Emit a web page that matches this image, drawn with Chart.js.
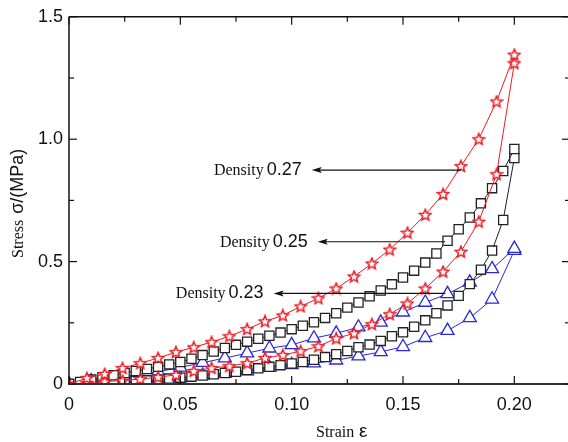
<!DOCTYPE html>
<html>
<head>
<meta charset="utf-8">
<script src="https://cdn.jsdelivr.net/npm/chart.js@4"></script>
<style>
  html, body { margin: 0; padding: 0; background: #fff; overflow: hidden; }
  .wrap { width: 568px; height: 442px; overflow: hidden; }
</style>
</head>
<body>
<div class="wrap"><canvas id="myChart" width="580" height="442"></canvas></div>
<script>
// strain steps per density
const strain27 = [0, 0.008, 0.016, 0.024, 0.032, 0.04, 0.048, 0.056, 0.064, 0.072, 0.08, 0.088, 0.096,
  0.104, 0.112, 0.12, 0.128, 0.136, 0.144, 0.152, 0.16, 0.168, 0.176, 0.184, 0.192, 0.2];
const strain25 = [0, 0.005, 0.01, 0.015, 0.02, 0.025, 0.03, 0.035, 0.04, 0.045, 0.05, 0.055, 0.06, 0.065,
  0.07, 0.075, 0.08, 0.085, 0.09, 0.095, 0.1, 0.105, 0.11, 0.115, 0.12, 0.125, 0.13, 0.135, 0.14, 0.145,
  0.15, 0.155, 0.16, 0.165, 0.17, 0.175, 0.18, 0.185, 0.19, 0.195, 0.2];
const strain23 = [0, 0.01, 0.02, 0.03, 0.04, 0.05, 0.06, 0.07, 0.08, 0.09, 0.1, 0.11, 0.12, 0.13, 0.14,
  0.15, 0.16, 0.17, 0.18, 0.19, 0.2];

// stress (MPa), loading and unloading branches
const load27 = [0, 0.024, 0.041, 0.065, 0.085, 0.106, 0.13, 0.15, 0.171, 0.195, 0.224, 0.256, 0.28,
  0.317, 0.35, 0.39, 0.439, 0.492, 0.549, 0.618, 0.691, 0.776, 0.89, 1.0, 1.154, 1.345];
const unload27 = [0, 0.005, 0.01, 0.014, 0.02, 0.028, 0.037, 0.053, 0.065, 0.073, 0.085, 0.106, 0.118,
  0.134, 0.154, 0.186, 0.207, 0.244, 0.285, 0.329, 0.39, 0.459, 0.54, 0.663, 0.857, 1.31];

const load25 = [0, 0.008, 0.018, 0.028, 0.036, 0.045, 0.053, 0.061, 0.07, 0.08, 0.09, 0.103, 0.118,
  0.133, 0.147, 0.16, 0.173, 0.185, 0.197, 0.21, 0.224, 0.238, 0.252, 0.27, 0.289, 0.312, 0.333, 0.358,
  0.382, 0.407, 0.435, 0.463, 0.496, 0.533, 0.585, 0.632, 0.68, 0.738, 0.8, 0.87, 0.96];
const unload25 = [0, 0.001, 0.003, 0.005, 0.007, 0.009, 0.012, 0.015, 0.018, 0.022, 0.026, 0.03, 0.035,
  0.04, 0.045, 0.05, 0.057, 0.064, 0.07, 0.077, 0.084, 0.09, 0.099, 0.11, 0.122, 0.135, 0.15, 0.161,
  0.176, 0.195, 0.211, 0.234, 0.26, 0.289, 0.321, 0.36, 0.408, 0.467, 0.545, 0.67, 0.923];

const load23 = [0, 0.012, 0.022, 0.037, 0.05, 0.068, 0.087, 0.106, 0.126, 0.146, 0.16, 0.187, 0.207,
  0.232, 0.252, 0.293, 0.333, 0.368, 0.415, 0.47, 0.553];
const unload23 = [0, 0.003, 0.006, 0.01, 0.016, 0.024, 0.035, 0.042, 0.053, 0.067, 0.078, 0.085, 0.097,
  0.114, 0.131, 0.152, 0.189, 0.218, 0.27, 0.346, 0.545];

// arrow callouts: density, stress level, strain of tail and head
const densities = ["0.27", "0.25", "0.23"];
const arrowStress = [0.874, 0.581, 0.37];
const arrowTail = [0.176, 0.169, 0.169];
const arrowHead = [0.109, 0.1117, 0.0919];

const RED = "rgb(236,28,36)";
const BLACK = "#222";
const BLUE = "rgb(40,40,215)";

const pts = (xs, ys) => xs.map((x, i) => ({ x: x, y: ys[i] }));

// hollow five-point star marker
function star(color) {
  const c = document.createElement("canvas");
  c.width = 14;
  c.height = 14;
  const g = c.getContext("2d");
  g.beginPath();
  for (let i = 0; i < 10; i++) {
    const r = i % 2 ? 2.7 : 6;
    const a = -Math.PI / 2 + i * Math.PI / 5;
    g.lineTo(7 + r * Math.cos(a), 7.4 + r * Math.sin(a));
  }
  g.closePath();
  g.fillStyle = "#fff";
  g.fill();
  g.strokeStyle = color;
  g.lineWidth = 1.5;
  g.stroke();
  return c;
}
const starImg = star(RED);

function series(xs, ys, color, style, radius) {
  return {
    data: pts(xs, ys),
    showLine: true,
    tension: 0,
    borderColor: color,
    borderWidth: 1,
    pointStyle: style,
    pointRadius: radius,
    pointBorderColor: color,
    pointBackgroundColor: "#fff",
    pointBorderWidth: 1.3,
  };
}

const line = (ctx, x1, y1, x2, y2) => {
  ctx.beginPath();
  ctx.moveTo(x1, y1);
  ctx.lineTo(x2, y2);
  ctx.stroke();
};

// frame, inward ticks, axis titles and density callouts
const decor = {
  id: "decor",
  afterDraw(chart) {
    const { ctx, chartArea: a, scales: { x, y } } = chart;
    ctx.save();
    ctx.strokeStyle = "#111";
    ctx.lineWidth = 1.5;
    line(ctx, a.left, a.top, a.right, a.top);
    line(ctx, a.left, a.top, a.left, a.bottom);
    line(ctx, a.right, a.top, a.right, a.bottom);
    ctx.lineWidth = 2;
    ctx.strokeStyle = "#333";
    line(ctx, a.left - 1, a.bottom, a.right, a.bottom);

    ctx.lineWidth = 1.2;
    ctx.strokeStyle = "#111";
    x.ticks.forEach((t) => {
      const px = x.getPixelForValue(t.value);
      const len = t.label ? 8 : 5;
      line(ctx, px, a.bottom, px, a.bottom - len);
      line(ctx, px, a.top, px, a.top + len);
    });
    y.ticks.forEach((t) => {
      const py = y.getPixelForValue(t.value);
      const len = t.label ? 8 : 5;
      line(ctx, a.left, py, a.left + len, py);
      line(ctx, a.right, py, a.right - len, py);
    });

    ctx.fillStyle = "#111";
    ctx.textBaseline = "alphabetic";

    // x title
    ctx.textAlign = "left";
    ctx.font = '16px "Liberation Serif"';
    ctx.fillText("Strain", a.left + 247, 437);
    ctx.font = '19px "Liberation Sans"';
    ctx.fillText("ε", a.left + 290, 437);

    // y title
    ctx.save();
    ctx.translate(23, 258);
    ctx.rotate(-Math.PI / 2);
    ctx.font = '16px "Liberation Serif"';
    ctx.fillText("Stress", 0, 0);
    const w = ctx.measureText("Stress ").width;
    ctx.font = '18px "Liberation Sans"';
    ctx.fillText("σ/(MPa)", w + 2, 0);
    ctx.restore();

    // callouts
    densities.forEach((d, i) => {
      const ay = y.getPixelForValue(arrowStress[i]);
      const hx = x.getPixelForValue(arrowHead[i]);
      const tx = x.getPixelForValue(arrowTail[i]);
      ctx.lineWidth = 1.2;
      ctx.strokeStyle = "#111";
      line(ctx, hx + 4, ay, tx, ay);
      ctx.beginPath();
      ctx.moveTo(hx, ay);
      ctx.lineTo(hx + 10, ay - 3);
      ctx.lineTo(hx + 8, ay);
      ctx.lineTo(hx + 10, ay + 3);
      ctx.closePath();
      ctx.fill();

      ctx.textAlign = "right";
      ctx.font = '18px "Liberation Sans"';
      const vx = hx - 10;
      ctx.fillText(d, vx, ay + 5);
      const vw = ctx.measureText(d).width;
      ctx.font = '16px "Liberation Serif"';
      ctx.fillText("Density", vx - vw - 3, ay + 5);
    });
    ctx.restore();
  },
};

const config = {
  type: "line",
  data: {
    datasets: [
      series(strain27, load27, RED, starImg, 6),
      series(strain27, unload27, RED, starImg, 6),
      series(strain25, load25, BLACK, "rect", 6.5),
      series(strain25, unload25, BLACK, "rect", 6.5),
      series(strain23, load23, BLUE, "triangle", 7.5),
      series(strain23, unload23, BLUE, "triangle", 7.5),
    ],
  },
  options: {
    responsive: false,
    animation: false,
    devicePixelRatio: 1,
    layout: { padding: { left: 0, top: 15, right: 9, bottom: 0 } },
    plugins: { legend: { display: false }, tooltip: { enabled: false } },
    scales: {
      x: {
        type: "linear",
        min: 0,
        max: 0.225,
        grid: { display: false, drawTicks: false },
        border: { display: false },
        afterFit: (s) => { s.height = 58; },
        ticks: {
          stepSize: 0.025,
          padding: 10,
          maxRotation: 0,
          autoSkip: false,
          color: "#111",
          font: { family: "Liberation Sans", size: 18 },
          callback: (v) => {
            const r = Math.round(v * 1000);
            if (r % 50 !== 0) return "";
            return r === 0 ? "0" : (r / 1000).toFixed(2);
          },
        },
      },
      y: {
        min: 0,
        max: 1.5,
        grid: { display: false, drawTicks: false },
        border: { display: false },
        afterFit: (s) => { s.width = 69; },
        ticks: {
          stepSize: 0.25,
          padding: 6,
          autoSkip: false,
          color: "#111",
          font: { family: "Liberation Sans", size: 18 },
          callback: (v) => {
            const r = Math.round(v * 100);
            if (r % 50 !== 0) return "";
            return r === 0 ? "0" : (r / 100).toFixed(1);
          },
        },
      },
    },
  },
  plugins: [decor],
};

const myChart = new Chart(document.getElementById("myChart"), config);
</script>
</body>
</html>
